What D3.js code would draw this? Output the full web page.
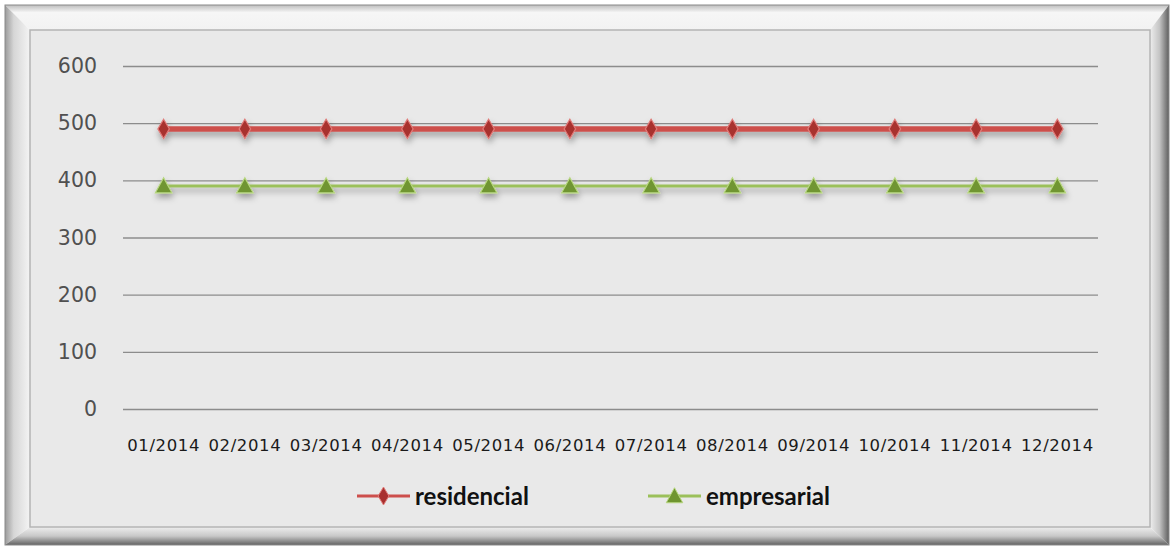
<!DOCTYPE html>
<html>
<head>
<meta charset="utf-8">
<script src="https://cdn.jsdelivr.net/npm/d3@7"></script>
<style>
  html, body { margin: 0; padding: 0; background: #ffffff; }
  svg { display: block; }
</style>
</head>
<body>
<div id="chart"></div>
<script>
// --- Data ---
const months = ["01/2014", "02/2014", "03/2014", "04/2014", "05/2014", "06/2014",
                "07/2014", "08/2014", "09/2014", "10/2014", "11/2014", "12/2014"];
const residencial = [490, 490, 490, 490, 490, 490, 490, 490, 490, 490, 490, 490];
const empresarial = [390, 390, 390, 390, 390, 390, 390, 390, 390, 390, 390, 390];
const yTicks = [0, 100, 200, 300, 400, 500, 600];

const width = 1172;
const height = 548;
const plot = { left: 123, right: 1098, top: 66, bottom: 409 };

const svg = d3.select("#chart").append("svg")
  .attr("width", width)
  .attr("height", height);

const defs = svg.append("defs");

// shadow used under the lines and markers
const shadow = defs.append("filter").attr("id", "shadow")
  .attr("x", "-20%").attr("y", "-50%").attr("width", "140%").attr("height", "300%");
shadow.append("feDropShadow")
  .attr("dx", 1).attr("dy", 4).attr("stdDeviation", 3)
  .attr("flood-color", "#000").attr("flood-opacity", 0.35);

// bevel gradients
function grad(id, x2, y2, stops) {
  const g = defs.append("linearGradient").attr("id", id)
    .attr("x1", 0).attr("y1", 0).attr("x2", x2).attr("y2", y2);
  stops.forEach(([o, c]) => g.append("stop").attr("offset", o).attr("stop-color", c));
}
grad("bevL", 1, 0, [[0, "#9a9a9a"], [0.35, "#d6d6d6"], [1, "#f4f4f4"]]);
grad("bevT", 0, 1, [[0, "#bdbdbd"], [0.3, "#f6f6f6"], [1, "#f2f2f2"]]);
grad("bevR", 1, 0, [[0, "#eeeeee"], [0.5, "#c4c4c4"], [1, "#5e5e5e"]]);
grad("bevB", 0, 1, [[0, "#eeeeee"], [0.5, "#c8c8c8"], [1, "#626262"]]);

// --- Frame ---
const o = { l: 5, t: 5, r: 1169, b: 545 };
const i = { l: 30, t: 30, r: 1150, b: 527 };
const frame = svg.append("g");
frame.append("polygon").attr("fill", "url(#bevT)")
  .attr("points", [[o.l, o.t], [o.r, o.t], [i.r, i.t], [i.l, i.t]].join(" "));
frame.append("polygon").attr("fill", "url(#bevL)")
  .attr("points", [[o.l, o.t], [i.l, i.t], [i.l, i.b], [o.l, o.b]].join(" "));
frame.append("polygon").attr("fill", "url(#bevB)")
  .attr("points", [[o.l, o.b], [i.l, i.b], [i.r, i.b], [o.r, o.b]].join(" "));
frame.append("polygon").attr("fill", "url(#bevR)")
  .attr("points", [[o.r, o.t], [o.r, o.b], [i.r, i.b], [i.r, i.t]].join(" "));
frame.append("rect")
  .attr("x", o.l).attr("y", o.t).attr("width", o.r - o.l).attr("height", o.b - o.t)
  .attr("fill", "none").attr("stroke", "#8a8a8a").attr("stroke-width", 1);
frame.append("rect")
  .attr("x", i.l).attr("y", i.t).attr("width", i.r - i.l).attr("height", i.b - i.t)
  .attr("fill", "#e9e9e9").attr("stroke", "#b4b4b4").attr("stroke-width", 1.5);

// --- Scales ---
const x = d3.scaleBand().domain(months).range([plot.left, plot.right]);
const y = d3.scaleLinear().domain([0, 600]).range([plot.bottom, plot.top]);

// --- Gridlines ---
svg.append("g")
  .attr("transform", `translate(${plot.left},0)`)
  .call(d3.axisLeft(y).tickValues(yTicks).tickFormat("").tickSize(-(plot.right - plot.left)))
  .call(g => g.select(".domain").remove())
  .call(g => g.selectAll("line").attr("stroke", "#8c8c8c").attr("stroke-width", 1.3));

// --- Y labels ---
svg.append("g")
  .attr("transform", `translate(97,0)`)
  .call(d3.axisLeft(y).tickValues(yTicks).tickSize(0).tickPadding(0))
  .call(g => g.select(".domain").remove())
  .call(g => g.selectAll("text")
    .attr("font-family", "DejaVu Sans")
    .attr("font-size", 20.5)
    .attr("fill", "#505050"));

// --- X labels ---
svg.append("g")
  .attr("transform", `translate(0,${plot.bottom})`)
  .call(d3.axisBottom(x).tickSize(0).tickPadding(30))
  .call(g => g.select(".domain").remove())
  .call(g => g.selectAll("text")
    .attr("font-family", "DejaVu Sans")
    .attr("font-size", 16.5)
    .attr("letter-spacing", 0.6)
    .attr("fill", "#1a1a1a"));

const cx = d => x(d) + x.bandwidth() / 2;

// --- Markers ---
const diamond = s => `M0,${-s * 0.6}L${s * 0.36},0L0,${s * 0.6}L${-s * 0.36},0Z`;
const triangle = s => `M0,${-s * 0.55}L${s * 0.55},${s * 0.45}L${-s * 0.55},${s * 0.45}Z`;

const series = [
  { name: "residencial", values: residencial, color: "#cd4f4c", width: 5.5,
    marker: diamond, mfill: "#a8302f", mstroke: "#e07b78", size: 16 },
  { name: "empresarial", values: empresarial, color: "#9bc05a", width: 3,
    marker: triangle, mfill: "#6f9530", mstroke: "#b7d77f", size: 15 },
];

const line = d3.line().x((d, k) => cx(months[k])).y(d => y(d));

series.forEach(s => {
  const g = svg.append("g").attr("filter", "url(#shadow)");
  g.append("path")
    .datum(s.values)
    .attr("d", line)
    .attr("fill", "none")
    .attr("stroke", s.color)
    .attr("stroke-width", s.width);
  g.selectAll("path.m")
    .data(s.values)
    .join("path")
    .attr("class", "m")
    .attr("transform", (d, k) => `translate(${cx(months[k])},${y(d)})`)
    .attr("d", s.marker(s.size))
    .attr("fill", s.mfill)
    .attr("stroke", s.mstroke)
    .attr("stroke-width", 1.2);
});

// --- Legend ---
const legendItems = [
  { s: series[0], x0: 357 },
  { s: series[1], x0: 648 },
];
const ly = 496;
legendItems.forEach(({ s, x0 }) => {
  const g = svg.append("g");
  g.append("line")
    .attr("x1", x0).attr("x2", x0 + 53)
    .attr("y1", ly).attr("y2", ly)
    .attr("stroke", s.color).attr("stroke-width", 3);
  g.append("path")
    .attr("transform", `translate(${x0 + 26.5},${ly})`)
    .attr("d", s.marker(15))
    .attr("fill", s.mfill)
    .attr("stroke", s.mstroke)
    .attr("stroke-width", 1);
  g.append("text")
    .attr("x", x0 + 58)
    .attr("y", ly + 9)
    .attr("font-family", "Lato")
    .attr("font-weight", "bold")
    .attr("font-size", 24)
    .attr("fill", "#111")
    .text(s.name);
});
</script>
</body>
</html>
